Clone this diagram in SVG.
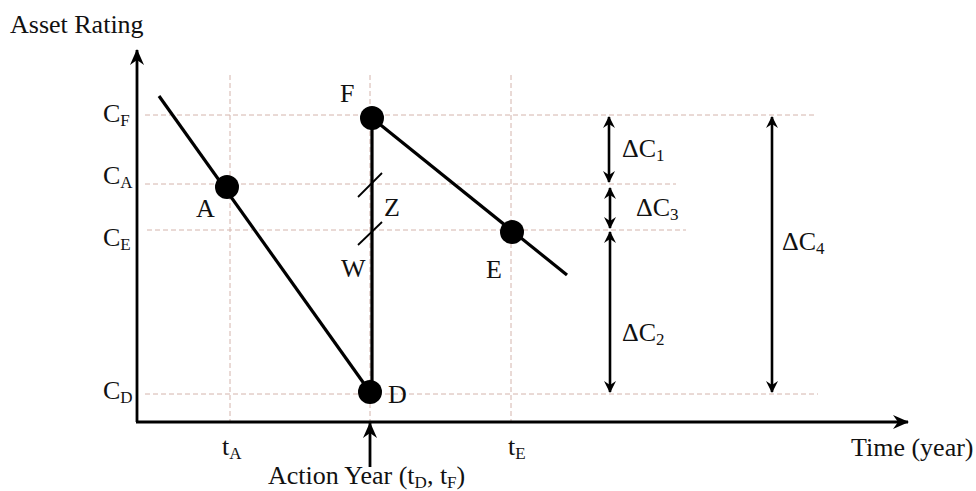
<svg xmlns="http://www.w3.org/2000/svg" width="976" height="491" viewBox="0 0 976 491">
<style>
text{font-family:"Liberation Serif","Times New Roman",serif;font-size:26px;fill:#111}
.sub{font-size:17px}
.grid{stroke:#d4b4ac;stroke-width:1;stroke-dasharray:5,3;fill:none}
.ln{stroke:#000;stroke-width:3.2;fill:none}
.ax{stroke:#000;stroke-width:2.8;fill:none}
.dbl{stroke:#000;stroke-width:2.6;fill:none;marker-start:url(#ah);marker-end:url(#ah)}
.dot{fill:#000}
</style>
<defs>
<marker id="ah" viewBox="0 0 12 12" refX="11" refY="6" markerWidth="12" markerHeight="12" markerUnits="userSpaceOnUse" orient="auto-start-reverse">
<path d="M0,0 L12,6 L0,12 L4,6 Z" fill="#000"/>
</marker>
<marker id="ax" viewBox="0 0 16 14" refX="15" refY="7" markerWidth="16" markerHeight="14" markerUnits="userSpaceOnUse" orient="auto">
<path d="M0,0 L16,7 L0,14 L5,7 Z" fill="#000"/>
</marker>
</defs>
<g id="grid">
<line class="grid" x1="145" y1="115" x2="815" y2="115"/>
<line class="grid" x1="145" y1="184" x2="676" y2="184"/>
<line class="grid" x1="147" y1="230" x2="686" y2="230"/>
<line class="grid" x1="145" y1="394" x2="818" y2="394"/>
<line class="grid" x1="230" y1="75" x2="230" y2="421"/>
<line class="grid" x1="370" y1="75" x2="370" y2="421"/>
<line class="grid" x1="511" y1="75" x2="511" y2="421"/>
</g>
<g id="axes">
<line class="ax" x1="137" y1="422" x2="137" y2="50" marker-end="url(#ax)"/>
<line class="ax" x1="136" y1="422" x2="908" y2="422" marker-end="url(#ax)"/>
<line class="ax" x1="370" y1="467" x2="370" y2="423" marker-end="url(#ax)"/>
<text x="10" y="33">Asset Rating</text>
<text x="851" y="456">Time (year)</text>
<text x="268" y="484">Action Year (t<tspan class="sub" dy="4">D</tspan><tspan dy="-4">, t</tspan><tspan class="sub" dy="4">F</tspan><tspan dy="-4">)</tspan></text>
<text x="103" y="122">C<tspan class="sub" dy="4">F</tspan></text>
<text x="103" y="184">C<tspan class="sub" dy="4">A</tspan></text>
<text x="103" y="246">C<tspan class="sub" dy="4">E</tspan></text>
<text x="103" y="399">C<tspan class="sub" dy="4">D</tspan></text>
<text x="222" y="455">t<tspan class="sub" dy="4">A</tspan></text>
<text x="508" y="455">t<tspan class="sub" dy="4">E</tspan></text>
</g>
<g id="connectors">
<line class="ln" x1="159" y1="96" x2="370" y2="392"/>
<line class="ln" x1="372" y1="118" x2="372" y2="392"/>
<line class="ln" x1="372" y1="118" x2="567" y2="275"/>
<line stroke="#000" stroke-width="1.8" x1="358" y1="197" x2="382" y2="173"/>
<line stroke="#000" stroke-width="1.8" x1="358" y1="245" x2="382" y2="222"/>
<line class="dbl" x1="609" y1="117" x2="609" y2="182"/>
<line class="dbl" x1="610" y1="188" x2="610" y2="228"/>
<line class="dbl" x1="610" y1="232" x2="610" y2="392"/>
<line class="dbl" x1="772" y1="117" x2="772" y2="392"/>
</g>
<g id="nodeA"><circle class="dot" cx="227" cy="187" r="12"/><text x="196" y="217">A</text></g>
<g id="nodeF"><circle class="dot" cx="372" cy="118" r="12"/><text x="340" y="102">F</text></g>
<g id="nodeE"><circle class="dot" cx="512" cy="232" r="12"/><text x="486" y="278">E</text></g>
<g id="nodeD"><circle class="dot" cx="370" cy="392" r="12"/><text x="388" y="403">D</text></g>
<g id="labelZ"><text x="384" y="216">Z</text></g>
<g id="labelW"><text x="341" y="277">W</text></g>
<g id="deltas">
<text x="622" y="157">ΔC<tspan class="sub" dy="4">1</tspan></text>
<text x="636" y="216">ΔC<tspan class="sub" dy="4">3</tspan></text>
<text x="622" y="341">ΔC<tspan class="sub" dy="4">2</tspan></text>
<text x="782" y="250">ΔC<tspan class="sub" dy="4">4</tspan></text>
</g>
</svg>
